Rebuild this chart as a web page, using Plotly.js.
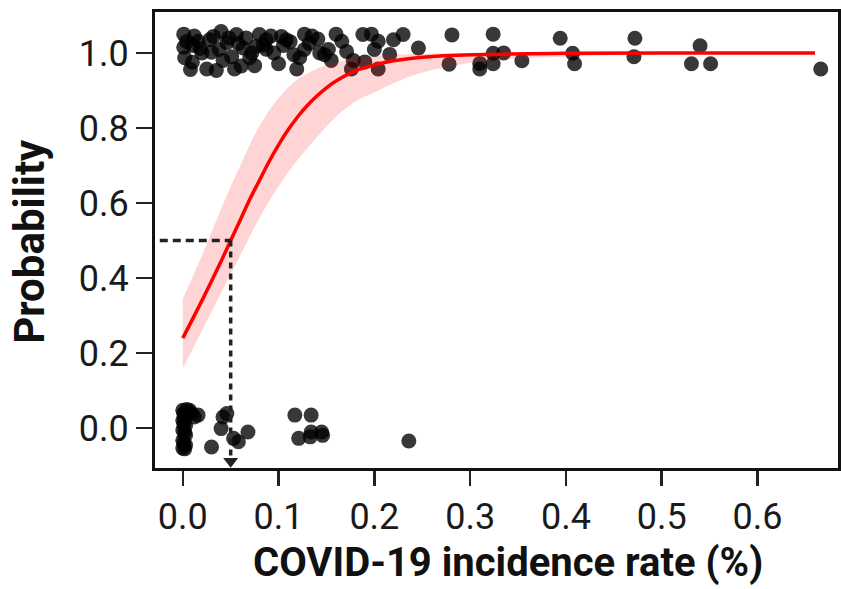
<!DOCTYPE html>
<html><head><meta charset="utf-8">
<script src="https://cdn.plot.ly/plotly-3.0.1.min.js"></script>
<style>html,body{margin:0;padding:0;background:#fff}#c{width:841px;height:589px}</style>
</head><body><div id="c"></div>
<script>
// observed points (outcome 1, jittered)
const topX = [0.001,0.016,0.002,0.008,0.025,0.032,0.040,0.038,0.046,0.056,0.042,0.035,0.051,0.054,0.063,0.070,0.061,0.080,0.077,0.075,0.084,0.087,0.087,0.103,0.105,0.127,0.141,0.160,0.166,0.188,0.197,0.204,0.220,0.230,0.246,0.100,0.119,0.127,0.122,0.143,0.152,0.155,0.178,0.176,0.190,0.204,0.200,0.216,0.171,0.281,0.278,0.324,0.310,0.310,0.324,0.335,0.324,0.354,0.394,0.407,0.409,0.472,0.471,0.540,0.531,0.551,0.666,0.010,0.020,0.028,0.012,0.066,0.095,0.112,0.135,0.004,0.018,0.030,0.048,0.058,0.072,0.092,0.108,0.116,0.132,0.148,0.001,0.010];
const topY = [1.050,1.031,0.987,0.956,0.957,1.044,1.057,1.009,1.027,1.049,0.980,0.953,0.990,0.957,1.013,0.987,0.965,1.049,1.018,0.966,1.021,1.035,1.010,1.044,1.020,1.050,1.037,1.050,1.031,1.049,1.050,1.031,1.035,1.049,1.013,0.971,0.957,1.009,0.987,1.000,1.009,0.980,0.980,0.957,0.976,0.957,1.009,0.996,1.004,1.048,0.970,1.050,0.972,0.957,0.999,1.000,0.971,0.979,1.039,0.999,0.971,1.039,0.990,1.019,0.971,0.971,0.957,1.020,1.000,1.035,1.045,1.040,1.000,1.030,1.045,1.030,1.012,1.002,1.040,1.025,1.000,1.045,1.035,0.995,1.025,0.995,1.015,0.975];
// observed points (outcome 0, jittered)
const botX = [0.000,0.000,0.000,0.000,0.000,0.003,0.003,0.003,0.003,0.007,0.016,0.030,0.042,0.046,0.040,0.053,0.058,0.068,0.117,0.134,0.121,0.133,0.134,0.145,0.146,0.236,0.001,0.001,0.001,0.002,0.002,0.002,0.004,0.005,0.009,0.012];
const botY = [0.048,0.021,-0.005,-0.032,-0.053,0.035,0.008,-0.018,-0.045,0.048,0.035,-0.050,0.030,0.039,-0.001,-0.027,-0.036,-0.010,0.035,0.035,-0.027,-0.023,-0.010,-0.010,-0.019,-0.034,0.040,0.012,-0.040,0.028,-0.010,-0.055,0.050,0.044,0.040,0.030];
// fitted curve
const curveX = [0,0.02,0.04,0.05,0.06,0.07,0.08,0.09,0.10,0.11,0.12,0.13,0.14,0.15,0.16,0.18,0.20,0.22,0.24,0.28,0.32,0.40,0.50,0.66];
const curveY = [0.24,0.34,0.445,0.50,0.555,0.61,0.66,0.71,0.755,0.795,0.83,0.86,0.885,0.907,0.925,0.952,0.968,0.979,0.986,0.993,0.996,0.999,1.0,1.0];
// confidence band
const bandX = [0,0.02,0.04,0.06,0.08,0.10,0.12,0.14,0.16,0.18,0.20,0.24,0.28,0.32,0.40,0.50,0.66];
const bandUp = [0.345,0.46,0.585,0.70,0.805,0.88,0.93,0.958,0.975,0.985,0.991,0.997,0.999,1.0,1.0,1.0,1.0];
const bandLo = [0.16,0.26,0.36,0.46,0.56,0.645,0.715,0.775,0.83,0.87,0.895,0.94,0.965,0.98,0.99,0.997,0.999];
// threshold marker
const thrX = 0.05, thrP = 0.5;
const xTicks = [0,0.1,0.2,0.3,0.4,0.5,0.6];
const xTickText = ['0.0','0.1','0.2','0.3','0.4','0.5','0.6'];
const yTicks = [0,0.2,0.4,0.6,0.8,1.0];
const yTickText = ['0.0','0.2','0.4','0.6','0.8','1.0'];
const xTitle = 'COVID-19 incidence rate (%)';
const yTitle = 'Probability';

const pts = {color:'rgba(0,0,0,0.78)', size:15, line:{width:0}};
const data = [
  {x:topX, y:topY, type:'scatter', mode:'markers', marker:pts, hoverinfo:'skip'},
  {x:botX, y:botY, type:'scatter', mode:'markers', marker:pts, hoverinfo:'skip'},
  {x:bandX, y:bandLo, type:'scatter', mode:'lines', line:{width:0, shape:'spline'}, hoverinfo:'skip'},
  {x:bandX, y:bandUp, type:'scatter', mode:'lines', line:{width:0, shape:'spline'}, fill:'tonexty', fillcolor:'rgba(255,0,0,0.17)', hoverinfo:'skip'},
  {x:curveX, y:curveY, type:'scatter', mode:'lines', line:{color:'#ff0000', width:3.5, shape:'spline', smoothing:1}},
  {x:[thrX], y:[-0.088], type:'scatter', mode:'markers', marker:{symbol:'triangle-down', size:13, color:'#222'}, cliponaxis:false}
];
const tf = {size:36, family:'Roboto', color:'#1a1a1a'};
const layout = {
  width:841, height:589,
  margin:{l:155, r:3, t:12, b:121},
  showlegend:false,
  paper_bgcolor:'#fff', plot_bgcolor:'#fff',
  font:{family:'Roboto', color:'#111'},
  xaxis:{range:[-0.029,0.684], tickvals:xTicks, ticktext:xTickText, ticks:'outside', ticklen:15, tickwidth:2.5, tickcolor:'#222',
         showline:true, mirror:true, linewidth:3, linecolor:'#111', showgrid:false, zeroline:false,
         tickfont:tf},
  yaxis:{range:[-0.106,1.109], tickvals:yTicks, ticktext:yTickText, ticks:'outside', ticklen:16, tickwidth:2.5, tickcolor:'#222',
         showline:true, mirror:true, linewidth:3, linecolor:'#111', showgrid:false, zeroline:false,
         tickfont:tf},
  annotations:[
    {text:'<b>'+xTitle+'</b>', xref:'paper', yref:'paper', x:0.517, y:-0.208, xanchor:'center', yanchor:'middle', showarrow:false,
     font:{size:40, family:'Roboto', color:'#111'}},
    {text:'<b>'+yTitle+'</b>', xref:'paper', yref:'paper', x:-0.184, y:0.497, xanchor:'center', yanchor:'middle', textangle:-90, showarrow:false,
     font:{size:42, family:'Roboto', color:'#111'}}
  ],
  shapes:[
    {type:'line', xref:'x', yref:'y', x0:-0.024, x1:thrX, y0:thrP, y1:thrP, line:{color:'#222', width:3.5, dash:'8px,5px'}},
    {type:'line', xref:'x', yref:'y', x0:thrX, x1:thrX, y0:thrP, y1:-0.075, line:{color:'#222', width:3.5, dash:'6px,5px'}}
  ]
};
Plotly.newPlot('c', data, layout, {staticPlot:true});
</script></body></html>
